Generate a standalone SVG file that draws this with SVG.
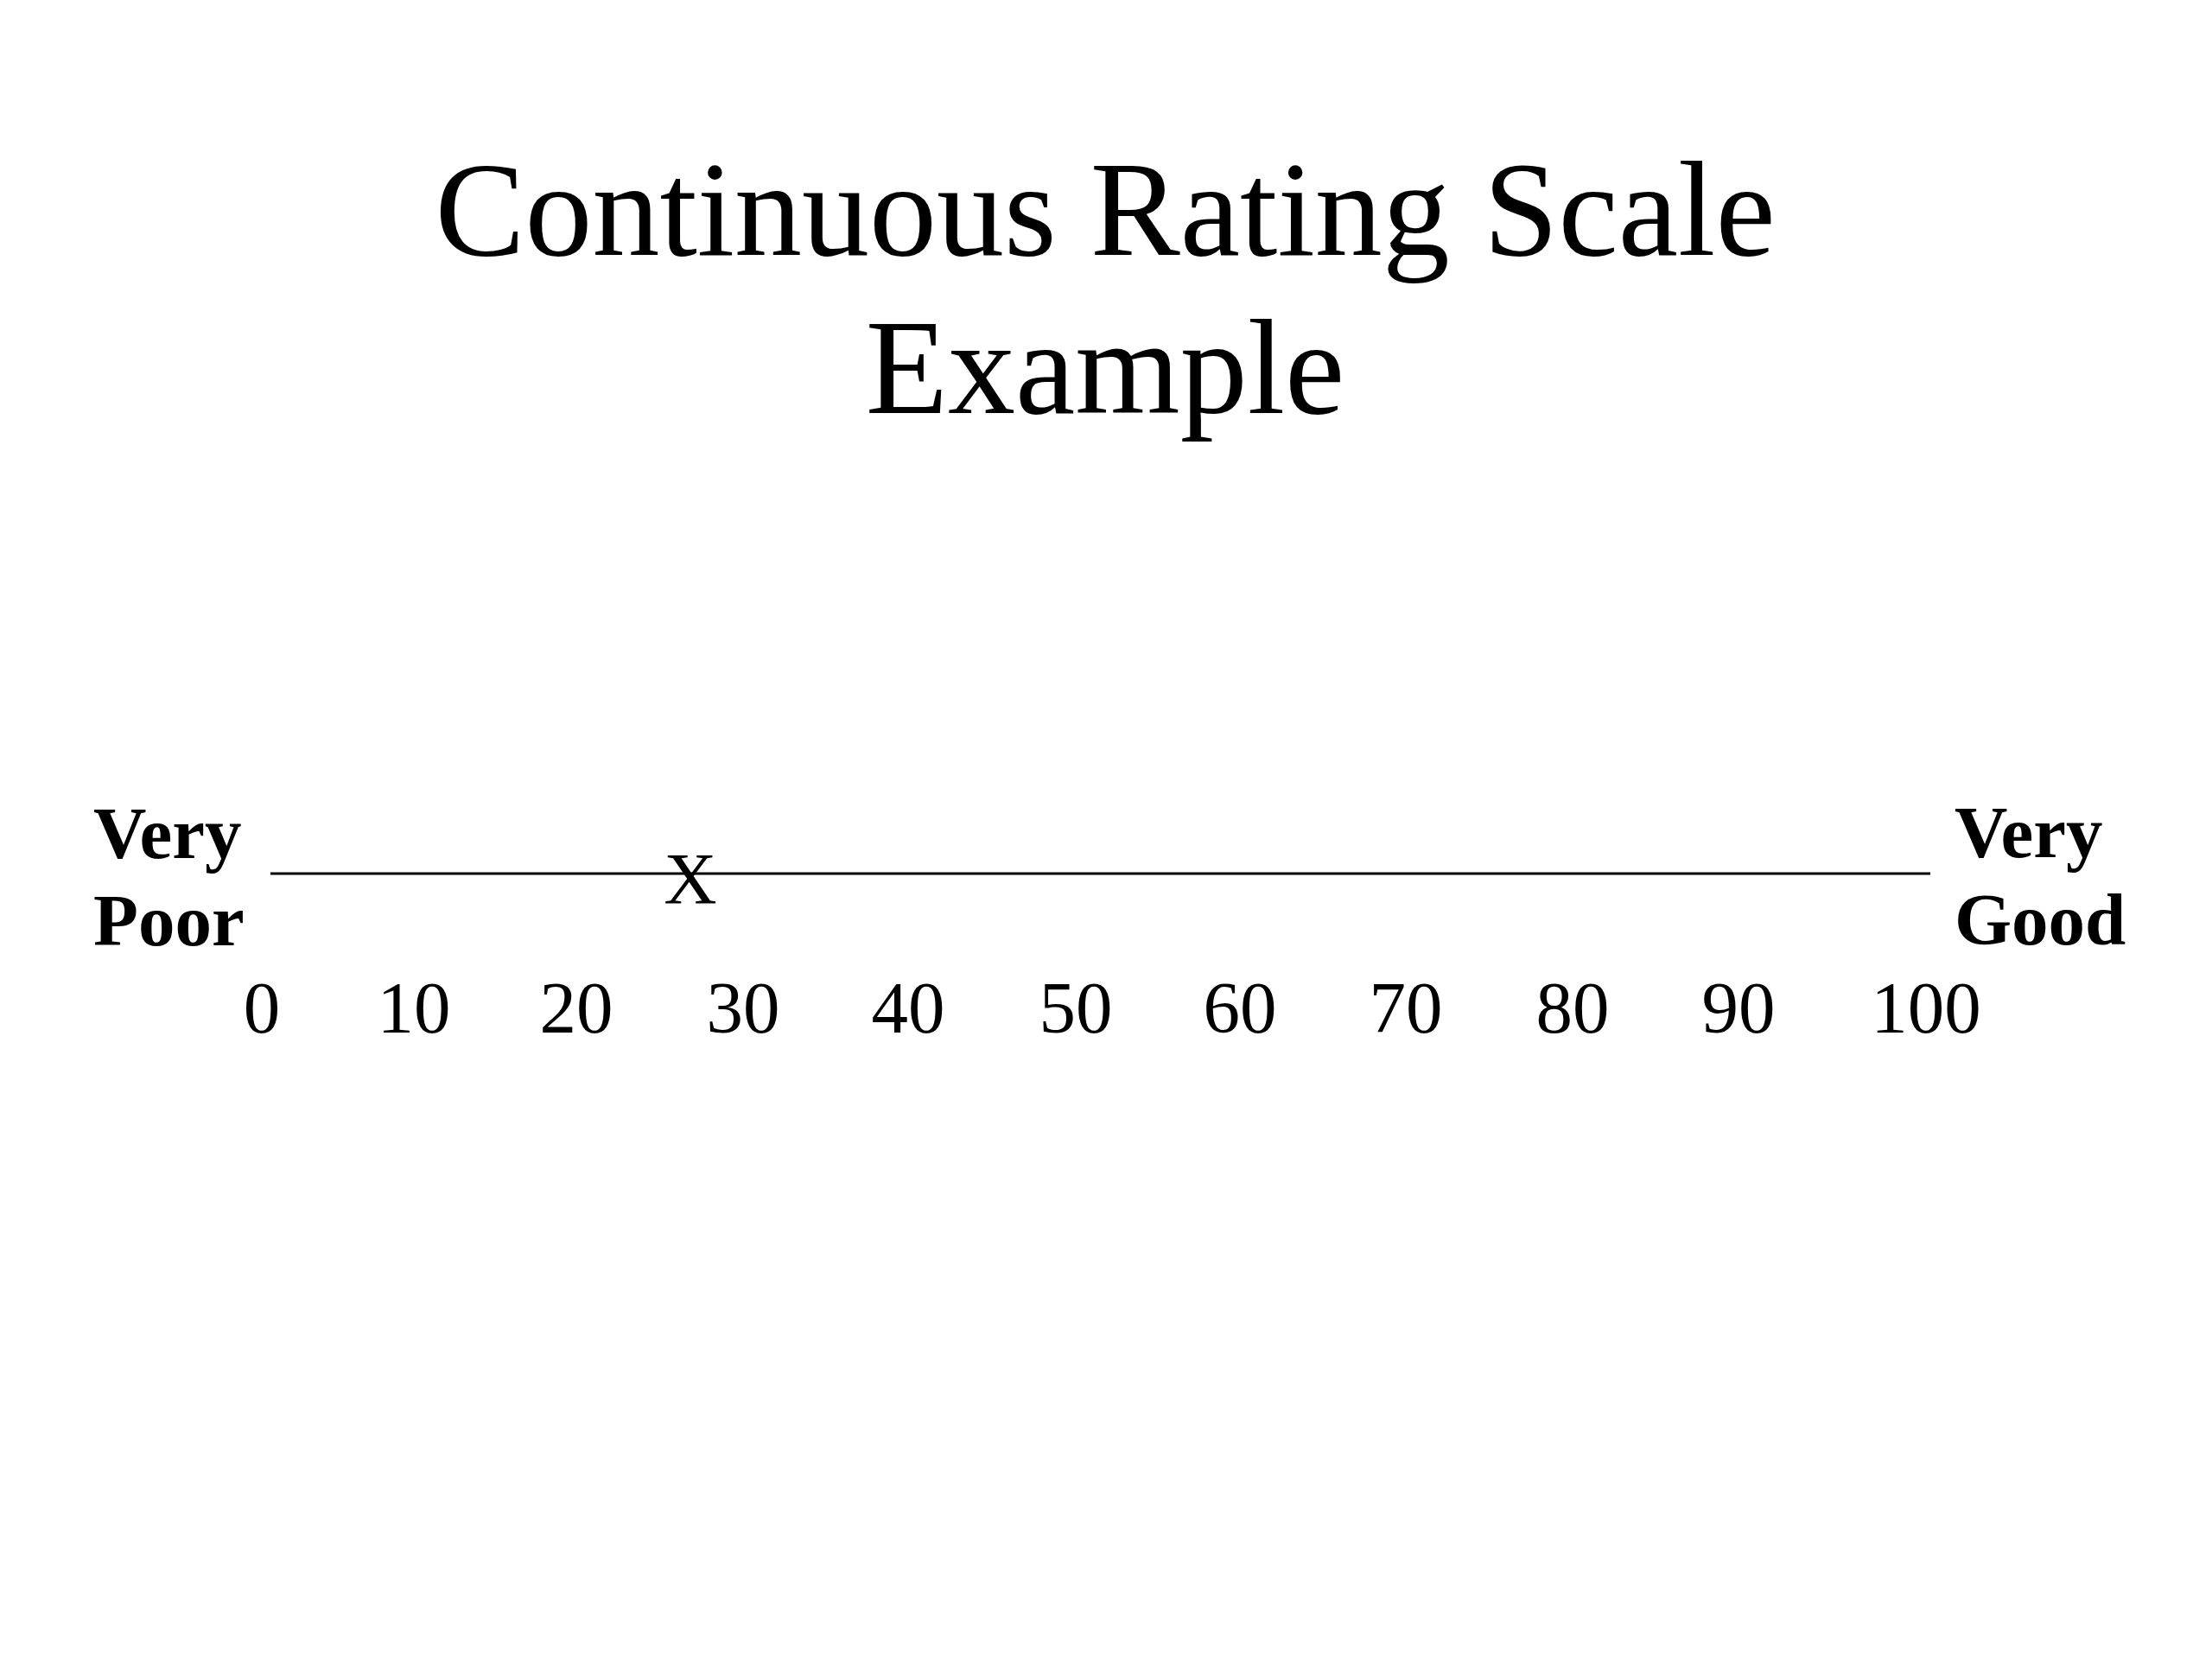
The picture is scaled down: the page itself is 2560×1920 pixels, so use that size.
<svg xmlns="http://www.w3.org/2000/svg" width="2560" height="1920" viewBox="0 0 2560 1920">
<style>
text { font-family: "Liberation Serif", "Times New Roman", serif; fill: #000; }
.title { font-size: 156px; text-anchor: middle; }
.lbl { font-size: 85px; font-weight: bold; }
.num { font-size: 85px; text-anchor: middle; }
.mark { font-size: 85px; text-anchor: middle; }
.scale { stroke: #000; stroke-width: 3; fill: none; }
</style>
<rect width="2560" height="1920" fill="#fff"/>
<g id="title">
<text class="title" x="1279" y="295">Continuous Rating Scale</text>
<text class="title" x="1279" y="478">Example</text>
</g>
<g id="connectors">
<line class="scale" x1="313" y1="1011" x2="2234" y2="1011"/>
</g>
<g id="left-label">
<text class="lbl" x="108" y="993">Very</text>
<text class="lbl" x="108" y="1094">Poor</text>
</g>
<g id="right-label">
<text class="lbl" x="2262" y="992">Very</text>
<text class="lbl" x="2262" y="1093">Good</text>
</g>
<g id="mark">
<text class="mark" x="799" y="1046">X</text>
</g>
<g id="numbers">
<text class="num" x="303" y="1195">0</text>
<text class="num" x="479" y="1195">10</text>
<text class="num" x="667" y="1195">20</text>
<text class="num" x="860" y="1195">30</text>
<text class="num" x="1051" y="1195">40</text>
<text class="num" x="1245" y="1195">50</text>
<text class="num" x="1435" y="1195">60</text>
<text class="num" x="1627" y="1195">70</text>
<text class="num" x="1820" y="1195">80</text>
<text class="num" x="2012" y="1195">90</text>
<text class="num" x="2229" y="1195">100</text>
</g>
</svg>
